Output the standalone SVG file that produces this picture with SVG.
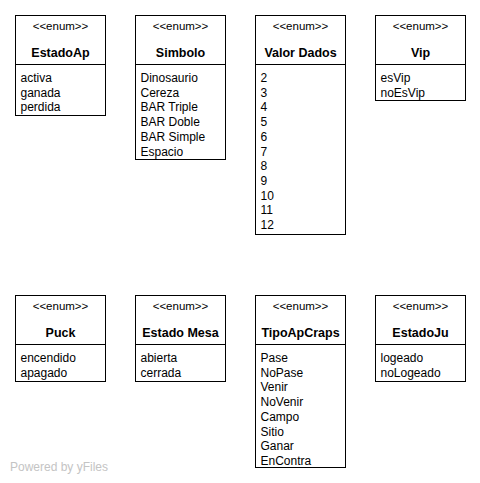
<svg xmlns="http://www.w3.org/2000/svg" width="480" height="483" viewBox="0 0 480 483">
<style>
.box{fill:#fff;stroke:#000;stroke-width:1}
.sep{stroke:#000;stroke-width:1}
.st{font-family:"Liberation Sans",Arial,sans-serif;font-size:11.5px;text-anchor:middle;fill:#000}
.nm{font-family:"Liberation Sans",Arial,sans-serif;font-size:12.5px;font-weight:bold;text-anchor:middle;fill:#000}
.it{font-family:"Liberation Sans",Arial,sans-serif;font-size:12px;fill:#000}
.wm{font-family:"Liberation Sans",Arial,sans-serif;font-size:12px;fill:#c4c4c4}
</style>
<rect width="480" height="483" fill="#fff"/>
<g id="connectors"/>
<g id="EstadoAp">
<rect class="box" x="15.5" y="15.5" width="90" height="100"/>
<line class="sep" x1="15.5" y1="64.5" x2="105.5" y2="64.5"/>
<text class="st" x="60.5" y="30">&lt;&lt;enum&gt;&gt;</text>
<text class="nm" x="60.5" y="57">EstadoAp</text>
<text class="it" x="20.5" y="82">activa</text>
<text class="it" x="20.5" y="96.7">ganada</text>
<text class="it" x="20.5" y="111.4">perdida</text>
</g>
<g id="Simbolo">
<rect class="box" x="135.5" y="15.5" width="90" height="144"/>
<line class="sep" x1="135.5" y1="64.5" x2="225.5" y2="64.5"/>
<text class="st" x="180.5" y="30">&lt;&lt;enum&gt;&gt;</text>
<text class="nm" x="180.5" y="57">Simbolo</text>
<text class="it" x="140.5" y="82">Dinosaurio</text>
<text class="it" x="140.5" y="96.7">Cereza</text>
<text class="it" x="140.5" y="111.4">BAR Triple</text>
<text class="it" x="140.5" y="126.1">BAR Doble</text>
<text class="it" x="140.5" y="140.8">BAR Simple</text>
<text class="it" x="140.5" y="155.5">Espacio</text>
</g>
<g id="ValorDados">
<rect class="box" x="255.5" y="15.5" width="90" height="219"/>
<line class="sep" x1="255.5" y1="64.5" x2="345.5" y2="64.5"/>
<text class="st" x="300.5" y="30">&lt;&lt;enum&gt;&gt;</text>
<text class="nm" x="300.5" y="57">Valor Dados</text>
<text class="it" x="260.5" y="82">2</text>
<text class="it" x="260.5" y="96.7">3</text>
<text class="it" x="260.5" y="111.4">4</text>
<text class="it" x="260.5" y="126.1">5</text>
<text class="it" x="260.5" y="140.8">6</text>
<text class="it" x="260.5" y="155.5">7</text>
<text class="it" x="260.5" y="170.2">8</text>
<text class="it" x="260.5" y="184.9">9</text>
<text class="it" x="260.5" y="199.6">10</text>
<text class="it" x="260.5" y="214.3">11</text>
<text class="it" x="260.5" y="229">12</text>
</g>
<g id="Vip">
<rect class="box" x="375.5" y="15.5" width="90" height="85"/>
<line class="sep" x1="375.5" y1="64.5" x2="465.5" y2="64.5"/>
<text class="st" x="420.5" y="30">&lt;&lt;enum&gt;&gt;</text>
<text class="nm" x="420.5" y="57">Vip</text>
<text class="it" x="380.5" y="82">esVip</text>
<text class="it" x="380.5" y="96.7">noEsVip</text>
</g>
<g id="Puck">
<rect class="box" x="15.5" y="295.5" width="90" height="86"/>
<line class="sep" x1="15.5" y1="344.5" x2="105.5" y2="344.5"/>
<text class="st" x="60.5" y="310">&lt;&lt;enum&gt;&gt;</text>
<text class="nm" x="60.5" y="337">Puck</text>
<text class="it" x="20.5" y="362">encendido</text>
<text class="it" x="20.5" y="376.7">apagado</text>
</g>
<g id="EstadoMesa">
<rect class="box" x="135.5" y="295.5" width="90" height="86"/>
<line class="sep" x1="135.5" y1="344.5" x2="225.5" y2="344.5"/>
<text class="st" x="180.5" y="310">&lt;&lt;enum&gt;&gt;</text>
<text class="nm" x="180.5" y="337">Estado Mesa</text>
<text class="it" x="140.5" y="362">abierta</text>
<text class="it" x="140.5" y="376.7">cerrada</text>
</g>
<g id="TipoApCraps">
<rect class="box" x="255.5" y="295.5" width="90" height="172"/>
<line class="sep" x1="255.5" y1="344.5" x2="345.5" y2="344.5"/>
<text class="st" x="300.5" y="310">&lt;&lt;enum&gt;&gt;</text>
<text class="nm" x="300.5" y="337">TipoApCraps</text>
<text class="it" x="260.5" y="362">Pase</text>
<text class="it" x="260.5" y="376.7">NoPase</text>
<text class="it" x="260.5" y="391.4">Venir</text>
<text class="it" x="260.5" y="406.1">NoVenir</text>
<text class="it" x="260.5" y="420.8">Campo</text>
<text class="it" x="260.5" y="435.5">Sitio</text>
<text class="it" x="260.5" y="450.2">Ganar</text>
<text class="it" x="260.5" y="464.9">EnContra</text>
</g>
<g id="EstadoJu">
<rect class="box" x="375.5" y="295.5" width="90" height="86"/>
<line class="sep" x1="375.5" y1="344.5" x2="465.5" y2="344.5"/>
<text class="st" x="420.5" y="310">&lt;&lt;enum&gt;&gt;</text>
<text class="nm" x="420.5" y="337">EstadoJu</text>
<text class="it" x="380.5" y="362">logeado</text>
<text class="it" x="380.5" y="376.7">noLogeado</text>
</g>
<text class="wm" x="10" y="470.5">Powered by yFiles</text>
</svg>
